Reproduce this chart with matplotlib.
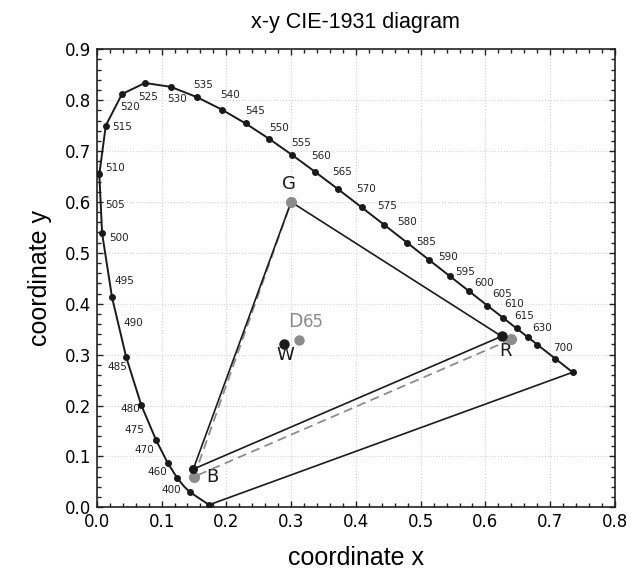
import numpy as np
import matplotlib
matplotlib.use("Agg")
import matplotlib.pyplot as plt
from matplotlib.ticker import MultipleLocator

# spectral locus (CIE 1931 2 deg), 5 nm steps used for the curve
locus_nm = [400, 460, 465, 470, 475, 480, 485, 490, 495, 500, 505, 510, 515, 520,
            525, 530, 535, 540, 545, 550, 555, 560, 565, 570, 575, 580, 585, 590,
            595, 600, 605, 610, 615, 620, 625, 630, 700]
locus_x = [0.1733, 0.1440, 0.1355, 0.1241, 0.1096, 0.0913, 0.0687, 0.0454, 0.0235,
           0.0082, 0.0039, 0.0139, 0.0389, 0.0743, 0.1142, 0.1547, 0.1929, 0.2296,
           0.2658, 0.3016, 0.3373, 0.3731, 0.4087, 0.4441, 0.4788, 0.5125, 0.5448,
           0.5752, 0.6029, 0.6270, 0.6482, 0.6658, 0.6801, 0.6915, 0.7006, 0.7079,
           0.7347]
locus_y = [0.0048, 0.0297, 0.0399, 0.0578, 0.0868, 0.1327, 0.2007, 0.2950, 0.4127,
           0.5384, 0.6548, 0.7502, 0.8120, 0.8338, 0.8262, 0.8059, 0.7816, 0.7543,
           0.7243, 0.6923, 0.6589, 0.6245, 0.5896, 0.5547, 0.5202, 0.4866, 0.4544,
           0.4242, 0.3965, 0.3725, 0.3514, 0.3340, 0.3197, 0.3083, 0.2993, 0.2920,
           0.2653]
# wavelengths that get a dot
dot_nm = [400, 460, 470, 475, 480, 485, 490, 495, 500, 505, 510, 515, 520, 525, 530,
          535, 540, 545, 550, 555, 560, 565, 570, 575, 580, 585, 590, 595, 600, 605,
          610, 615, 630, 700]

# wavelength labels as printed on the chart
wl_labels = ["400", "460", "470", "475", "480", "485", "490", "495", "500", "505",
             "510", "515", "520", "525", "530", "535", "540", "545", "550", "555",
             "560", "565", "570", "575", "580", "585", "590", "595", "600", "605",
             "610", "615", "630", "700"]
wl_label_x = [0.1143, 0.0937, 0.073, 0.0587, 0.051, 0.0324, 0.0571, 0.0432, 0.034,
              0.0288, 0.0278, 0.0396, 0.051, 0.0793, 0.124, 0.1642, 0.2054, 0.244,
              0.2811, 0.315, 0.347, 0.378, 0.4155, 0.4484, 0.4788, 0.5086, 0.5426,
              0.5694, 0.598, 0.6255, 0.6445, 0.6595, 0.6883, 0.7202]
wl_label_y = [0.034, 0.0693, 0.112, 0.151, 0.1925, 0.2763, 0.3627, 0.4446, 0.530,
              0.594, 0.666, 0.747, 0.7864, 0.8055, 0.8015, 0.8297, 0.8094, 0.7786,
              0.7446, 0.7157, 0.690, 0.6593, 0.626, 0.592, 0.5605, 0.5206, 0.4918,
              0.4629, 0.440, 0.4197, 0.400, 0.3752, 0.3523, 0.313]

# primaries R, G, B: measured display (black) and sRGB (gray)
disp_x = [0.625, 0.300, 0.149]
disp_y = [0.336, 0.600, 0.075]
srgb_x = [0.640, 0.300, 0.150]
srgb_y = [0.330, 0.600, 0.060]
white_disp = (0.289, 0.321)
white_d65 = (0.3127, 0.3290)

fig = plt.figure(figsize=(6.41, 5.77), dpi=100)
ax = fig.add_axes([0.151, 0.1208, 0.8084, 0.7938])

lx = np.array(locus_x)
ly = np.array(locus_y)
ax.plot(lx, ly, color="#1a1a1a", lw=1.4, zorder=3)
# line of purples
ax.plot([lx[0], lx[-1]], [ly[0], ly[-1]], color="#1a1a1a", lw=1.2, zorder=3)
idx = [locus_nm.index(n) for n in dot_nm]
ax.plot(lx[idx], ly[idx], "o", color="#1a1a1a", ms=4, zorder=4)

for t, x, y in zip(wl_labels, wl_label_x, wl_label_y):
    ax.text(x, y, t, fontsize=7.5, ha="center", va="center", color="#222222",
            family="DejaVu Sans")

# triangles: gray sRGB drawn R -> B -> G, black display closed
gray = "#8c8c8c"
ax.plot([srgb_x[0], srgb_x[2], srgb_x[1]], [srgb_y[0], srgb_y[2], srgb_y[1]],
        color=gray, lw=1.3, ls=(0, (5, 3)), zorder=5)
ax.plot(srgb_x, srgb_y, "o", color=gray, ms=7, zorder=6)
ax.plot(disp_x + disp_x[:1], disp_y + disp_y[:1], color="#1a1a1a", lw=1.2, zorder=5)
ax.plot(disp_x[0], disp_y[0], "o", color="#1a1a1a", ms=6.5, zorder=7)
ax.plot(disp_x[2], disp_y[2], "o", color="#1a1a1a", ms=5.5, zorder=7)

ax.plot(*white_disp, "o", color="#1a1a1a", ms=6.5, zorder=6)
ax.plot(*white_d65, "o", color=gray, ms=6.5, zorder=6)

lbl = dict(fontsize=13, ha="center", va="center", color="#1a1a1a", family="DejaVu Sans")
ax.text(0.2966, 0.636, "G", **lbl)
ax.text(0.631, 0.3077, "R", **lbl)
ax.text(0.1787, 0.059, "B", **lbl)
ax.text(0.2904, 0.299, "W", **lbl)
ax.text(0.318, 0.3536, "D", fontsize=13.5, ha="right", va="baseline", color=gray,
        family="DejaVu Sans")
ax.text(0.318, 0.3536, "65", fontsize=12, ha="left", va="baseline", color=gray,
        family="DejaVu Sans")

ax.set_xlim(0, 0.8)
ax.set_ylim(0, 0.9)
ax.xaxis.set_major_locator(MultipleLocator(0.1))
ax.yaxis.set_major_locator(MultipleLocator(0.1))
ax.xaxis.set_minor_locator(MultipleLocator(0.02))
ax.yaxis.set_minor_locator(MultipleLocator(0.02))
ax.tick_params(which="both", direction="in", top=True, right=True, color="#222222",
               width=1)
ax.tick_params(which="major", length=4.5, labelsize=12, pad=4)
ax.tick_params(which="minor", length=3)
ax.grid(which="major", color="#d6d6d6", ls=":", lw=0.8)
for s in ax.spines.values():
    s.set_linewidth(1.2)
    s.set_color("#222222")

ax.set_title("x-y CIE-1931 diagram", fontsize=15.5, family="Liberation Sans", pad=15)
ax.set_xlabel("coordinate x", fontsize=18, family="Liberation Sans", labelpad=11)
ax.set_ylabel("coordinate y", fontsize=18, family="Liberation Sans", labelpad=9)

fig.savefig("out.png", dpi=100)
